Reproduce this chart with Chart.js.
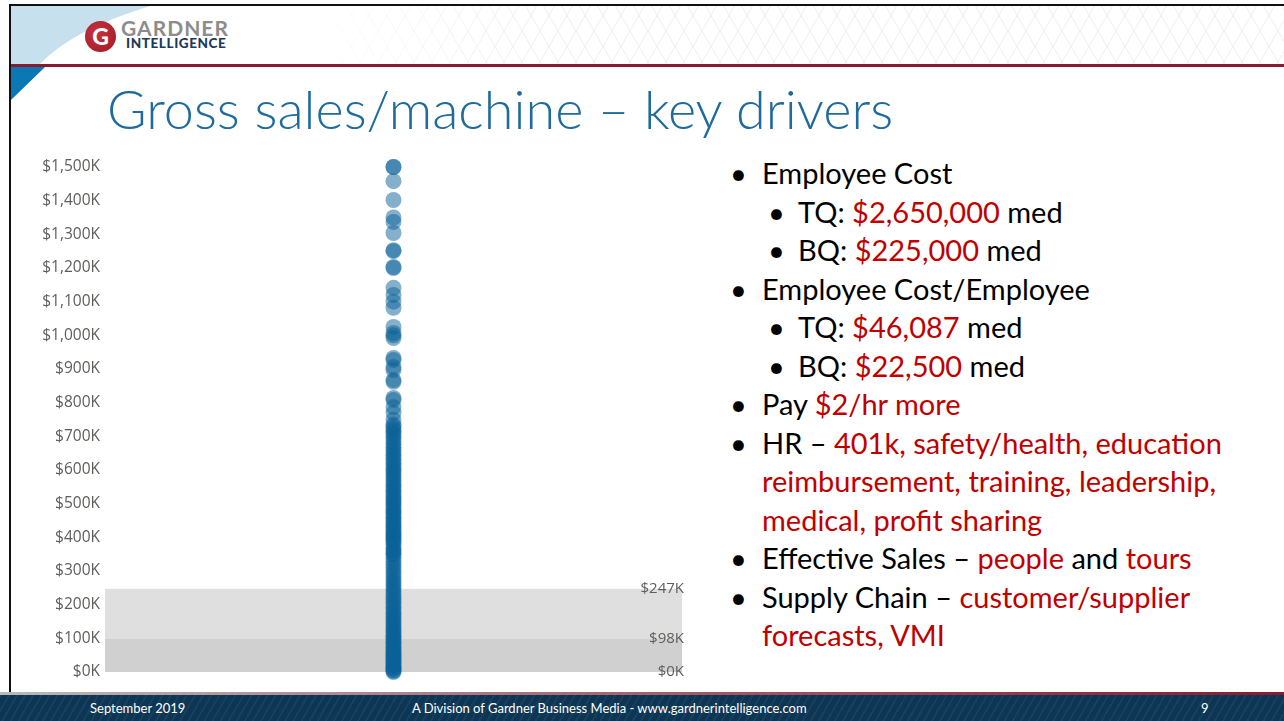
<!DOCTYPE html>
<html>
<head>
<meta charset="utf-8">
<script src="https://cdn.jsdelivr.net/npm/chart.js@4.4.1/dist/chart.umd.min.js"></script>
<style>
  html, body { margin: 0; padding: 0; background: #fff; }
  body { width: 1284px; height: 721px; position: relative; overflow: hidden; font-family: Lato, "Open Sans", sans-serif; }
  .frame { position: absolute; left: 9px; top: 4px; right: 0; bottom: 28px; border-top: 2px solid #111; border-left: 2px solid #111; }
  .rule { position: absolute; left: 11px; right: 0; top: 64px; height: 3px; background: #8a1a30; }
  .logo-g { position: absolute; left: 85px; top: 21px; width: 31px; height: 31px; border-radius: 50%; background: radial-gradient(circle at 40% 35%, #c8323e, #9c1a26);
            color: #fff; font: 900 23px/31px Lato, sans-serif; text-align: center; }
  .logo-1 { position: absolute; left: 121px; top: 15px; font: 700 21px Lato, sans-serif; color: #8c8c8c; letter-spacing: 1px; }
  .logo-2 { position: absolute; left: 126px; top: 35px; font: 900 13.5px Lato, sans-serif; color: #1b3a5c; letter-spacing: 0.6px; }
  .title { position: absolute; left: 107px; top: 76px; font: 300 54px Lato, sans-serif; color: #1f6b9c; white-space: nowrap; }
  #chart { position: absolute; left: 20px; top: 150px; }
  .bullets { position: absolute; left: 730px; top: 154px; font: 400 29px/38.5px Lato, sans-serif; color: #000; white-space: nowrap; }
  .bullets div { position: relative; padding-left: 32px; }
  .bullets div.sub { padding-left: 68px; }
  .bullets div.cont { padding-left: 32px; }
  .bullets div::before { content: "\2022"; position: absolute; left: 0; }
  .bullets div.sub::before { left: 38px; }
  .bullets div.cont::before { content: ""; }
  .red { color: #c00000; }
  .footer-line { position: absolute; left: 0; right: 0; top: 692px; height: 3px; background: linear-gradient(90deg, #b9b9b9, #a0505f 60%, #8a1a30); }
  .footer { position: absolute; left: 0; right: 0; top: 695px; height: 26px; background: #0d3554;
            background-image: repeating-linear-gradient(120deg, rgba(255,255,255,0.05) 0 2px, rgba(255,255,255,0) 2px 7px);
            color: #fff; font: 400 13px/26px Lato, sans-serif; }
  .footer span { position: absolute; top: 0; }
</style>
</head>
<body>
<div class="frame"></div>
<svg width="1284" height="140" style="position:absolute;left:0;top:0">
  <defs>
    <pattern id="tri" width="36" height="31" patternUnits="userSpaceOnUse">
      <path d="M0 31 L18 0 L36 31 M0 0 L18 31 L36 0" stroke="#eeeeee" stroke-width="1" fill="none"/>
    </pattern>
    <linearGradient id="fade" x1="0" x2="1" y1="0" y2="0">
      <stop offset="0" stop-color="#fff" stop-opacity="1"/>
      <stop offset="0.25" stop-color="#fff" stop-opacity="0"/>
    </linearGradient>
  </defs>
  <rect x="300" y="6" width="984" height="58" fill="url(#tri)"/>
  <rect x="300" y="6" width="984" height="58" fill="url(#fade)"/>
  <path d="M11 6 L150 6 Q72 30 40 64 L11 64 Z" fill="#c7e0ee"/>
  <path d="M11 67 L45 67 L11 100 Z" fill="#0b78b5"/>
</svg>
<div class="rule"></div>
<div class="logo-g">G</div>
<div class="logo-1">GARDNER</div>
<div class="logo-2">INTELLIGENCE</div>
<div class="title">Gross sales/machine – key drivers</div>

<canvas id="chart" width="670" height="540"></canvas>

<div class="bullets">
  <div>Employee Cost</div>
  <div class="sub">TQ: <span class="red">$2,650,000</span> med</div>
  <div class="sub">BQ: <span class="red">$225,000</span> med</div>
  <div>Employee Cost/Employee</div>
  <div class="sub">TQ: <span class="red">$46,087</span> med</div>
  <div class="sub">BQ: <span class="red">$22,500</span> med</div>
  <div>Pay <span class="red">$2/hr more</span></div>
  <div>HR – <span class="red">401k, safety/health, education</span></div>
  <div class="cont"><span class="red">reimbursement, training, leadership,</span></div>
  <div class="cont"><span class="red">medical, profit sharing</span></div>
  <div>Effective Sales – <span class="red">people</span> and <span class="red">tours</span></div>
  <div>Supply Chain – <span class="red">customer/supplier</span></div>
  <div class="cont"><span class="red">forecasts, VMI</span></div>
</div>

<div class="footer-line"></div>
<div class="footer">
  <span style="left:90px">September 2019</span>
  <span style="left:412px">A Division of Gardner Business Media - www.gardnerintelligence.com</span>
  <span style="left:1201px">9</span>
</div>

<script>
// gross sales per machine, in $K (one dot per shop)
const salesK = [
  0, 3, 6, 10, 14, 18, 22, 27, 31, 36, 40, 45, 50, 54, 59, 63, 68, 73, 78, 84, 89, 95,
  101, 106, 112, 118, 124, 130, 137, 143, 150, 157, 163, 170, 177, 185, 192, 200, 208,
  215, 223, 231, 240, 248, 256, 265, 273, 282, 291, 300, 310, 319, 329, 338, 348, 358,
  368, 379, 390, 401, 412, 424, 436, 448, 460, 473, 486, 499, 512, 526, 540, 554, 569,
  584, 598, 613, 628, 644, 660, 676, 692, 708, 722, 735,
  352, 364, 385, 396, 407, 418, 430, 442, 455, 467, 480, 493, 505, 518, 533, 547, 561,
  576, 591, 605, 620, 636, 651, 667, 683, 700, 715, 729,
  749, 770, 787, 808, 814, 862, 867, 897, 906, 927, 933, 992, 1000, 1007, 1025,
  1082, 1100, 1120, 1141, 1200, 1203, 1250, 1253, 1304, 1337, 1350, 1402, 1458, 1500, 1500
];
const yTicksMax = 1500;
const yTickStep = 100;
// reference band edges shown on the right ($0K, $98K, $247K)
const bandEdges = [0, 98, 247];

const fmtK = v => '$' + Number(v).toLocaleString('en-US') + 'K';

const bandPlugin = {
  id: 'bands',
  beforeDraw(chart) {
    const { ctx, chartArea } = chart;
    const y = chart.scales.y;
    const fills = ['#d0d0d0', '#dfdfdf'];
    ctx.save();
    for (let i = 0; i < bandEdges.length - 1; i++) {
      const top = y.getPixelForValue(bandEdges[i + 1]);
      const bot = y.getPixelForValue(bandEdges[i]);
      ctx.fillStyle = fills[i];
      ctx.fillRect(chartArea.left, top, chartArea.right - chartArea.left, bot - top);
    }
    ctx.restore();
  }
};

const canvas = document.getElementById('chart');
new Chart(canvas.getContext('2d'), {
  type: 'scatter',
  data: {
    datasets: [{
      data: salesK.map(v => ({ x: 0, y: v })),
      backgroundColor: 'rgba(10,98,152,0.5)',
      borderWidth: 0,
      pointRadius: 8,
      pointHoverRadius: 8,
      clip: false
    }]
  },
  options: {
    responsive: false,
    animation: false,
    events: [],
    layout: { padding: { top: 17, bottom: 18, left: 0, right: 5 } },
    plugins: { legend: { display: false }, tooltip: { enabled: false } },
    scales: {
      x: { type: 'linear', min: -1, max: 1, display: false },
      y: {
        position: 'left',
        min: 0, max: yTicksMax,
        afterFit: s => { s.width = 85; },
        grid: { display: false, drawTicks: false },
        border: { display: false },
        ticks: { stepSize: yTickStep, padding: 5, color: '#605e5c', font: { family: '"Open Sans"', size: 15.5 }, callback: fmtK }
      },
      y2: {
        position: 'right',
        min: 0, max: yTicksMax,
        afterBuildTicks: s => { s.ticks = bandEdges.map(v => ({ value: v })); },
        afterFit: s => { s.width = 0; },
        grid: { display: false, drawTicks: false },
        border: { display: false },
        ticks: { mirror: true, padding: 2, color: '#605e5c', font: { family: '"Open Sans"', size: 15 }, callback: fmtK }
      }
    }
  },
  plugins: [bandPlugin]
});
</script>
</body>
</html>
